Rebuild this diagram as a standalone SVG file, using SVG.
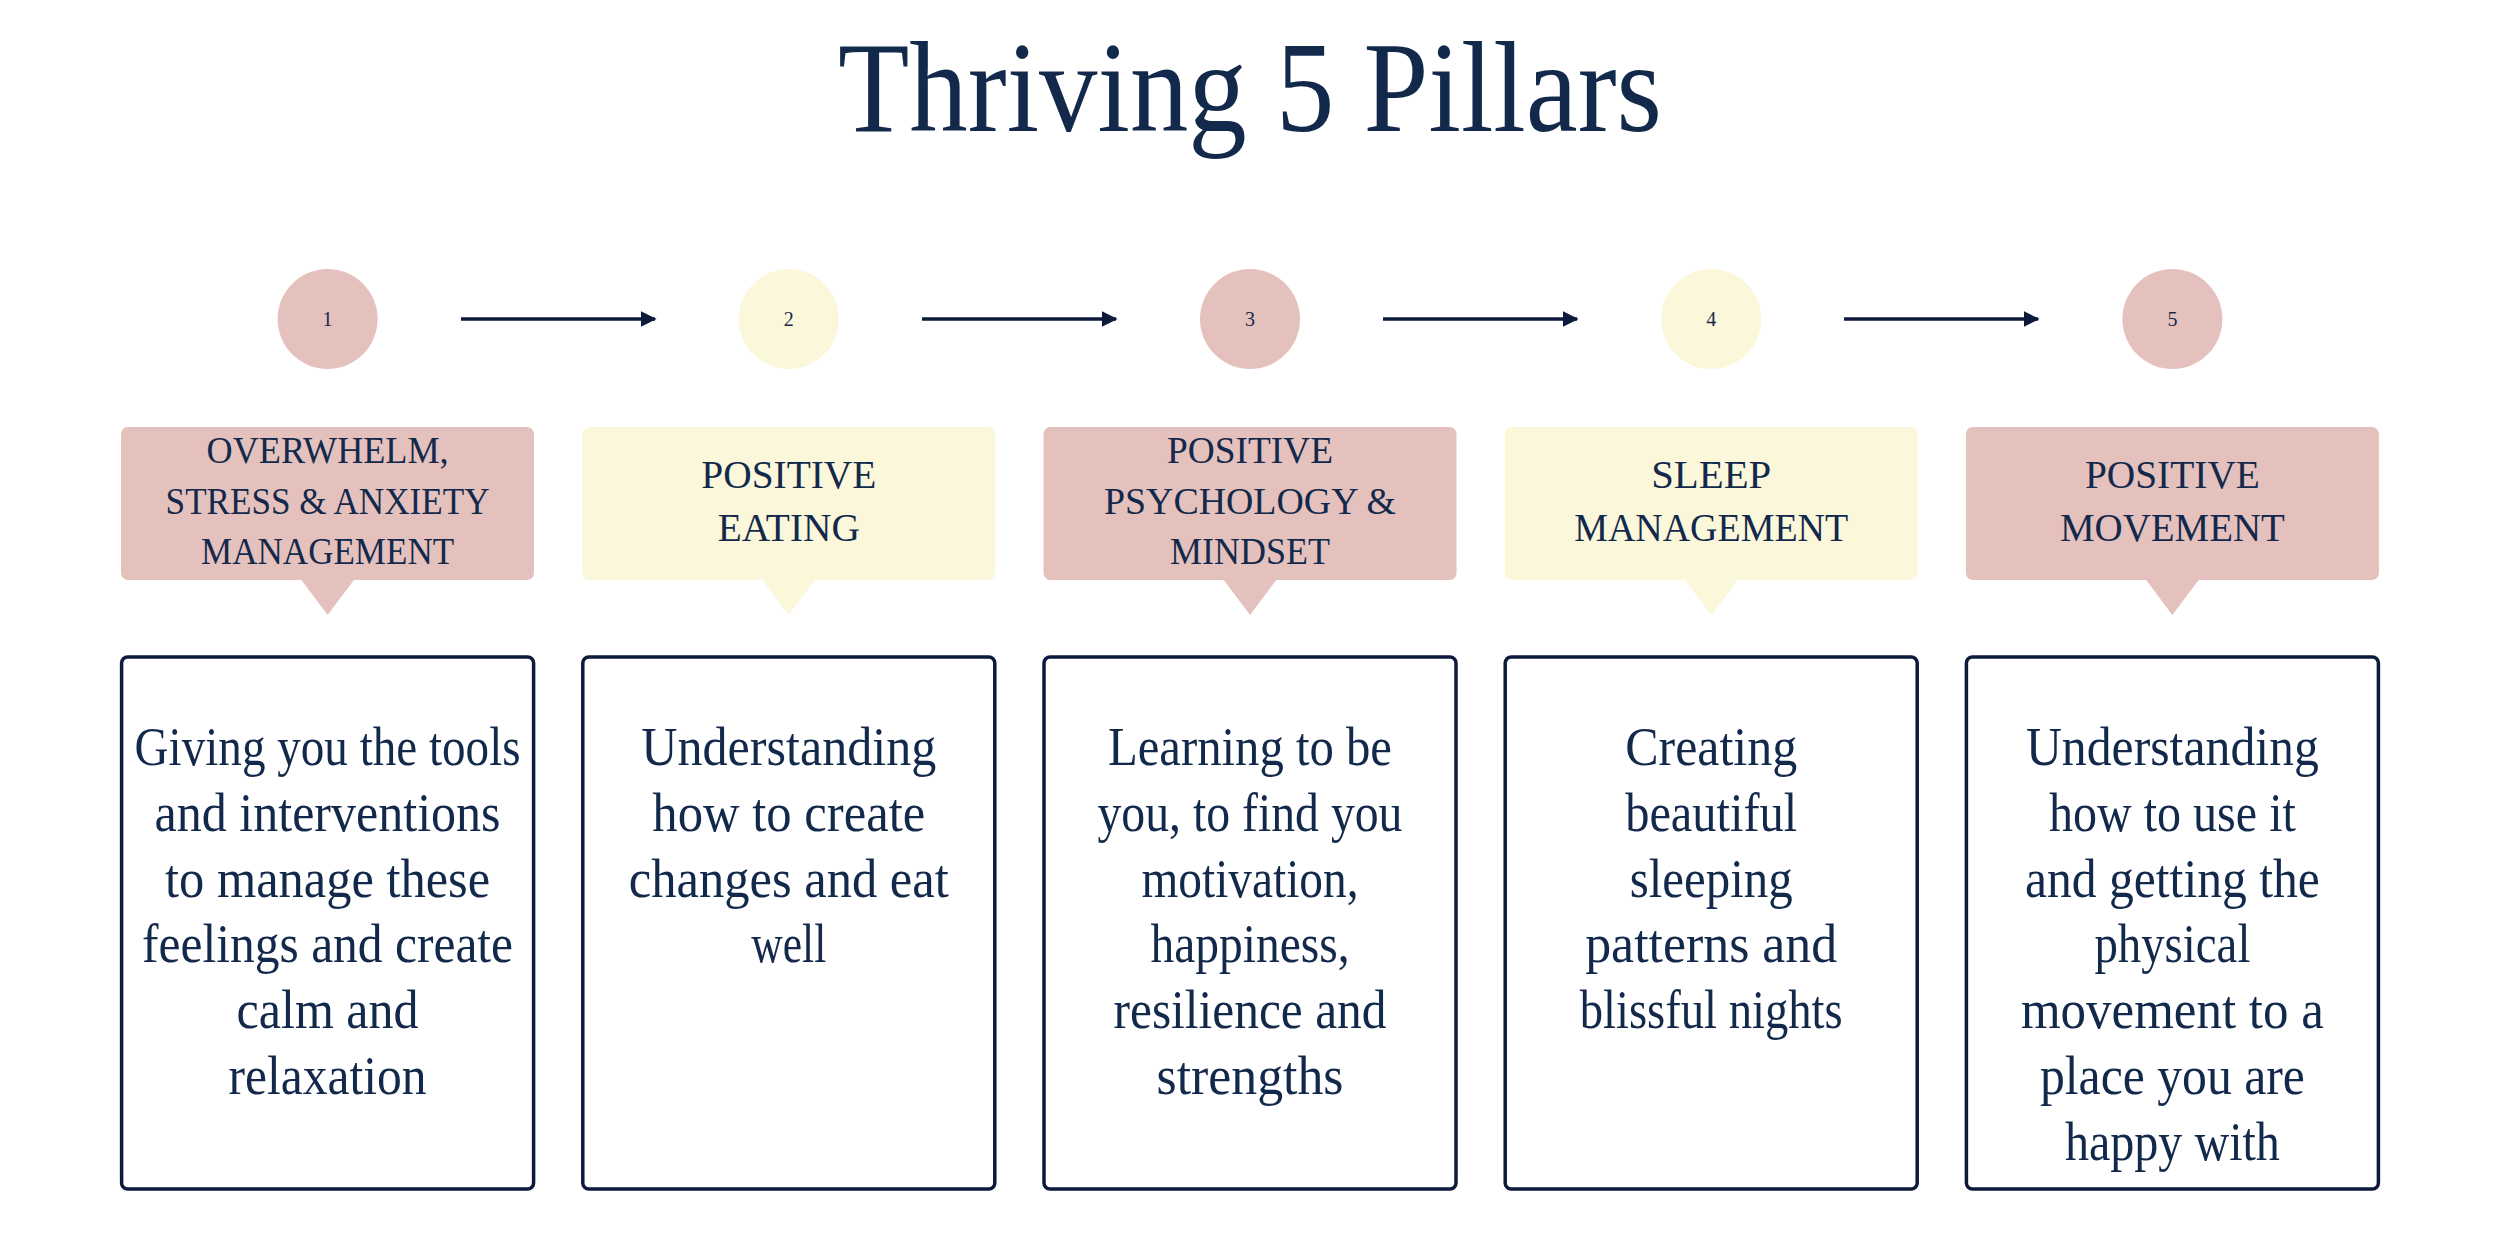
<svg xmlns="http://www.w3.org/2000/svg" width="2500" height="1250" viewBox="0 0 2500 1250">
<defs>
<style>
.bg{fill:#ffffff}
.pink{fill:#E5C1BE}
.yellow{fill:#FBF7DA}
.title{font-family:"Liberation Serif","DejaVu Serif",serif;font-size:130px;fill:#13294B;text-anchor:middle}
.num{font-family:"Liberation Serif","DejaVu Serif",serif;font-size:20px;fill:#13294B;text-anchor:middle}
.hd{font-family:"Liberation Serif","DejaVu Serif",serif;font-size:40px;fill:#13294B;text-anchor:middle}
.hd3{font-family:"Liberation Serif","DejaVu Serif",serif;font-size:38px;fill:#13294B;text-anchor:middle}
.body{font-family:"Liberation Serif","DejaVu Serif",serif;font-size:54px;fill:#13294B;text-anchor:middle}
.card{fill:#ffffff;stroke:#0D1A3C;stroke-width:3.5}
.conn{stroke:#0D1A3C;stroke-width:3.5;fill:none}
</style>
<marker id="arr" viewBox="0 0 10 10" refX="9" refY="5" markerWidth="4.5" markerHeight="4.5" orient="auto" markerUnits="strokeWidth">
<path d="M0,0 L10,5 L0,10 z" fill="#0D1A3C"/>
</marker>
</defs>
<rect class="bg" x="0" y="0" width="2500" height="1250"/>
<text class="title" x="1250" y="131" textLength="824" lengthAdjust="spacingAndGlyphs">Thriving 5 Pillars</text>

<g id="connectors">
<line class="conn" x1="461" y1="319" x2="655" y2="319" marker-end="url(#arr)"/>
<line class="conn" x1="922" y1="319" x2="1116" y2="319" marker-end="url(#arr)"/>
<line class="conn" x1="1383" y1="319" x2="1577" y2="319" marker-end="url(#arr)"/>
<line class="conn" x1="1844" y1="319" x2="2038" y2="319" marker-end="url(#arr)"/>
</g>

<g id="pillar1">
<circle class="pink" cx="327.6" cy="319" r="50"/>
<text class="num" x="327.6" y="326">1</text>
<rect class="pink" x="121" y="427" width="413" height="153" rx="7"/>
<polygon class="pink" points="300.6,579 354.6,579 327.6,615"/>
<text class="hd3" x="327.6" y="463" textLength="242" lengthAdjust="spacingAndGlyphs">OVERWHELM,</text>
<text class="hd3" x="327.6" y="514" textLength="324" lengthAdjust="spacingAndGlyphs">STRESS &amp; ANXIETY</text>
<text class="hd3" x="327.6" y="564" textLength="253" lengthAdjust="spacingAndGlyphs">MANAGEMENT</text>
<rect class="card" x="121.6" y="657" width="412" height="532" rx="6"/>
<text class="body" x="327.6" y="765" textLength="386" lengthAdjust="spacingAndGlyphs">Giving you the tools</text>
<text class="body" x="327.6" y="831" textLength="346" lengthAdjust="spacingAndGlyphs">and interventions</text>
<text class="body" x="327.6" y="897" textLength="325" lengthAdjust="spacingAndGlyphs">to manage these</text>
<text class="body" x="327.6" y="962" textLength="371" lengthAdjust="spacingAndGlyphs">feelings and create</text>
<text class="body" x="327.6" y="1028" textLength="182" lengthAdjust="spacingAndGlyphs">calm and</text>
<text class="body" x="327.6" y="1094" textLength="198" lengthAdjust="spacingAndGlyphs">relaxation</text>
</g>

<g id="pillar2">
<circle class="yellow" cx="788.8" cy="319" r="50"/>
<text class="num" x="788.8" y="326">2</text>
<rect class="yellow" x="582.3" y="427" width="413" height="153" rx="7"/>
<polygon class="yellow" points="761.8,579 815.8,579 788.8,615"/>
<text class="hd" x="788.8" y="488" textLength="175" lengthAdjust="spacingAndGlyphs">POSITIVE</text>
<text class="hd" x="788.8" y="541" textLength="142" lengthAdjust="spacingAndGlyphs">EATING</text>
<rect class="card" x="582.8" y="657" width="412" height="532" rx="6"/>
<text class="body" x="788.8" y="765" textLength="295" lengthAdjust="spacingAndGlyphs">Understanding</text>
<text class="body" x="788.8" y="831" textLength="273" lengthAdjust="spacingAndGlyphs">how to create</text>
<text class="body" x="788.8" y="897" textLength="320" lengthAdjust="spacingAndGlyphs">changes and eat</text>
<text class="body" x="788.8" y="962" textLength="75" lengthAdjust="spacingAndGlyphs">well</text>
</g>

<g id="pillar3">
<circle class="pink" cx="1250" cy="319" r="50"/>
<text class="num" x="1250" y="326">3</text>
<rect class="pink" x="1043.5" y="427" width="413" height="153" rx="7"/>
<polygon class="pink" points="1223,579 1277,579 1250,615"/>
<text class="hd3" x="1250" y="463" textLength="166" lengthAdjust="spacingAndGlyphs">POSITIVE</text>
<text class="hd3" x="1250" y="514" textLength="292" lengthAdjust="spacingAndGlyphs">PSYCHOLOGY &amp;</text>
<text class="hd3" x="1250" y="564" textLength="160" lengthAdjust="spacingAndGlyphs">MINDSET</text>
<rect class="card" x="1044" y="657" width="412" height="532" rx="6"/>
<text class="body" x="1250" y="765" textLength="284" lengthAdjust="spacingAndGlyphs">Learning to be</text>
<text class="body" x="1250" y="831" textLength="305" lengthAdjust="spacingAndGlyphs">you, to find you</text>
<text class="body" x="1250" y="897" textLength="217" lengthAdjust="spacingAndGlyphs">motivation,</text>
<text class="body" x="1250" y="962" textLength="199" lengthAdjust="spacingAndGlyphs">happiness,</text>
<text class="body" x="1250" y="1028" textLength="273" lengthAdjust="spacingAndGlyphs">resilience and</text>
<text class="body" x="1250" y="1094" textLength="187" lengthAdjust="spacingAndGlyphs">strengths</text>
</g>

<g id="pillar4">
<circle class="yellow" cx="1711.2" cy="319" r="50"/>
<text class="num" x="1711.2" y="326">4</text>
<rect class="yellow" x="1504.7" y="427" width="413" height="153" rx="7"/>
<polygon class="yellow" points="1684.2,579 1738.2,579 1711.2,615"/>
<text class="hd" x="1711.2" y="488" textLength="120" lengthAdjust="spacingAndGlyphs">SLEEP</text>
<text class="hd" x="1711.2" y="541" textLength="274" lengthAdjust="spacingAndGlyphs">MANAGEMENT</text>
<rect class="card" x="1505.2" y="657" width="412" height="532" rx="6"/>
<text class="body" x="1711.2" y="765" textLength="172" lengthAdjust="spacingAndGlyphs">Creating</text>
<text class="body" x="1711.2" y="831" textLength="172" lengthAdjust="spacingAndGlyphs">beautiful</text>
<text class="body" x="1711.2" y="897" textLength="163" lengthAdjust="spacingAndGlyphs">sleeping</text>
<text class="body" x="1711.2" y="962" textLength="252" lengthAdjust="spacingAndGlyphs">patterns and</text>
<text class="body" x="1711.2" y="1028" textLength="263" lengthAdjust="spacingAndGlyphs">blissful nights</text>
</g>

<g id="pillar5">
<circle class="pink" cx="2172.4" cy="319" r="50"/>
<text class="num" x="2172.4" y="326">5</text>
<rect class="pink" x="1965.9" y="427" width="413" height="153" rx="7"/>
<polygon class="pink" points="2145.4,579 2199.4,579 2172.4,615"/>
<text class="hd" x="2172.4" y="488" textLength="175" lengthAdjust="spacingAndGlyphs">POSITIVE</text>
<text class="hd" x="2172.4" y="541" textLength="225" lengthAdjust="spacingAndGlyphs">MOVEMENT</text>
<rect class="card" x="1966.4" y="657" width="412" height="532" rx="6"/>
<text class="body" x="2172.4" y="765" textLength="293" lengthAdjust="spacingAndGlyphs">Understanding</text>
<text class="body" x="2172.4" y="831" textLength="247" lengthAdjust="spacingAndGlyphs">how to use it</text>
<text class="body" x="2172.4" y="897" textLength="295" lengthAdjust="spacingAndGlyphs">and getting the</text>
<text class="body" x="2172.4" y="962" textLength="156" lengthAdjust="spacingAndGlyphs">physical</text>
<text class="body" x="2172.4" y="1028" textLength="303" lengthAdjust="spacingAndGlyphs">movement to a</text>
<text class="body" x="2172.4" y="1094" textLength="265" lengthAdjust="spacingAndGlyphs">place you are</text>
<text class="body" x="2172.4" y="1160" textLength="215" lengthAdjust="spacingAndGlyphs">happy with</text>
</g>
</svg>
